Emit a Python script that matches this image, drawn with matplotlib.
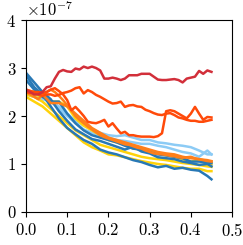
import numpy as np
import matplotlib
matplotlib.use("Agg")
from matplotlib import pyplot as plt
from matplotlib.ticker import FormatStrFormatter

plt.rcParams['font.family'] = 'serif'
plt.rcParams['font.serif'] = ['cmr10']
plt.rcParams['mathtext.fontset'] = 'cm'
plt.rcParams['axes.formatter.use_mathtext'] = True
plt.rcParams['font.size'] = 12

# x grids
x_fine = np.round(np.arange(0, 0.455, 0.01), 2)
x_coarse = np.array([0.00, 0.02, 0.04, 0.06, 0.08, 0.10, 0.12, 0.14, 0.16, 0.18, 0.20, 0.22,
                     0.24, 0.26, 0.28, 0.30, 0.32, 0.34, 0.36, 0.38, 0.40, 0.42, 0.44, 0.45])

# lines on the fine grid (values in units of 1e-7)
dark_red = [2.55, 2.50, 2.45, 2.45, 2.50, 2.60, 2.62, 2.78, 2.92, 2.96, 2.93, 2.92, 2.99, 2.97,
            3.03, 3.00, 3.03, 3.00, 2.95, 2.78, 2.78, 2.80, 2.78, 2.75, 2.78, 2.85, 2.85, 2.85,
            2.88, 2.88, 2.88, 2.82, 2.76, 2.75, 2.75, 2.76, 2.77, 2.75, 2.70, 2.78, 2.80, 2.82,
            2.94, 2.88, 2.95, 2.92]
red_a = [2.50, 2.48, 2.50, 2.45, 2.42, 2.45, 2.45, 2.42, 2.44, 2.48, 2.50, 2.53, 2.58, 2.60,
         2.47, 2.54, 2.50, 2.44, 2.40, 2.35, 2.30, 2.26, 2.27, 2.30, 2.19, 2.22, 2.23, 2.20,
         2.19, 2.13, 2.10, 2.06, 2.03, 2.02, 2.05, 2.06, 2.02, 1.97, 1.95, 1.92, 1.90, 1.90,
         1.88, 1.88, 1.90, 1.92]
red_b = [2.55, 2.52, 2.50, 2.50, 2.48, 2.50, 2.55, 2.58, 2.52, 2.45, 2.33, 2.12, 2.19, 2.10,
         2.00, 1.88, 1.86, 1.85, 1.88, 1.92, 1.78, 1.85, 1.74, 1.64, 1.67, 1.60, 1.60, 1.58,
         1.57, 1.57, 1.57, 1.56, 1.58, 1.64, 2.10, 2.12, 2.10, 2.05, 2.00, 1.95, 2.05, 2.19,
         2.05, 1.92, 1.98, 1.97]
orange = [2.50, 2.45, 2.40, 2.35, 2.45, 2.50, 2.55, 2.50, 2.42, 2.33, 2.22, 2.12, 2.00, 1.92,
          1.85, 1.78, 1.72, 1.66, 1.60, 1.56, 1.53, 1.50, 1.47, 1.44, 1.41, 1.40, 1.37, 1.34,
          1.32, 1.28, 1.25, 1.22, 1.21, 1.20, 1.19, 1.17, 1.16, 1.14, 1.13, 1.14, 1.15, 1.12,
          1.10, 1.08, 1.06, 1.05]

# lines on the coarse grid
orange_2 = [2.55, 2.50, 2.45, 2.27, 2.27, 2.20, 2.05, 1.90, 1.75, 1.65, 1.55, 1.50,
            1.45, 1.40, 1.35, 1.30, 1.25, 1.22, 1.20, 1.15, 1.12, 1.10, 1.08, 1.06]
blue_a = [2.85, 2.60, 2.45, 2.20, 1.95, 1.75, 1.62, 1.50, 1.42, 1.30, 1.24, 1.20,
          1.14, 1.08, 1.04, 0.98, 0.93, 0.96, 0.90, 0.92, 0.88, 0.86, 0.75, 0.68]
blue_b = [2.90, 2.70, 2.50, 2.35, 2.10, 1.90, 1.72, 1.62, 1.52, 1.48, 1.42, 1.36,
          1.30, 1.36, 1.26, 1.22, 1.14, 1.12, 1.10, 1.05, 1.02, 0.98, 1.00, 0.95]
blue_c = [2.75, 2.55, 2.40, 2.30, 2.30, 2.05, 1.85, 1.70, 1.60, 1.55, 1.50, 1.45,
          1.38, 1.32, 1.30, 1.25, 1.20, 1.18, 1.15, 1.12, 1.05, 1.05, 1.03, 1.02]
yellow_a = [2.40, 2.30, 2.20, 2.05, 1.90, 1.75, 1.60, 1.45, 1.35, 1.28, 1.20, 1.18,
            1.14, 1.10, 1.06, 1.03, 1.00, 0.98, 0.95, 0.92, 0.90, 0.90, 0.85, 0.85]
yellow_b = [2.45, 2.40, 2.30, 2.15, 2.00, 1.85, 1.70, 1.60, 1.50, 1.40, 1.35, 1.30,
            1.25, 1.20, 1.15, 1.12, 1.10, 1.08, 1.05, 1.02, 1.00, 0.98, 0.95, 0.94]
yellow_c = [2.50, 2.45, 2.40, 2.30, 2.30, 2.20, 1.95, 1.80, 1.70, 1.60, 1.50, 1.45,
            1.40, 1.32, 1.30, 1.28, 1.22, 1.18, 1.15, 1.10, 1.05, 1.08, 1.00, 1.00]
light_a = [2.45, 2.40, 2.35, 2.30, 2.20, 2.05, 1.90, 1.80, 1.72, 1.65, 1.60, 1.58,
           1.60, 1.55, 1.50, 1.50, 1.45, 1.43, 1.40, 1.38, 1.35, 1.28, 1.20, 1.20]
light_b = [2.50, 2.45, 2.40, 2.30, 2.15, 2.00, 1.85, 1.72, 1.65, 1.60, 1.55, 1.50,
           1.48, 1.45, 1.42, 1.42, 1.38, 1.35, 1.30, 1.25, 1.22, 1.15, 1.28, 1.20]

c_blue = '#2878b5'
c_light = '#8ccbf5'
c_yellow = '#ffd20a'
c_orange = '#ff7f1a'
c_red = '#ff4a0a'
c_dark = '#d22f3a'

fig = plt.figure(figsize=(2.43, 2.45), dpi=100)
ax = fig.add_axes([0.107, 0.135, 0.848, 0.783])
lw = 1.8

for ys, c in [(light_a, c_light), (light_b, c_light),
              (yellow_a, c_yellow), (yellow_b, c_yellow), (yellow_c, c_yellow),
              (blue_a, c_blue), (blue_b, c_blue), (blue_c, c_blue), (orange_2, c_orange)]:
    ax.plot(x_coarse, np.array(ys) * 1e-7, color=c, lw=lw)
for ys, c in [(orange, c_orange), (red_b, c_red), (red_a, c_red), (dark_red, c_dark)]:
    ax.plot(x_fine, np.array(ys) * 1e-7, color=c, lw=lw)

ax.set_xlim(0, 0.5)
ax.set_ylim(0, 4e-7)
ax.set_xticks([0, 0.1, 0.2, 0.3, 0.4, 0.5])
ax.set_yticks([0, 1e-7, 2e-7, 3e-7, 4e-7])
ax.xaxis.set_major_formatter(FormatStrFormatter(r'$%.1f$'))
ax.tick_params(labelsize=12)
ax.yaxis.get_offset_text().set_fontsize(12)

fig.savefig('out.png', dpi=100)
